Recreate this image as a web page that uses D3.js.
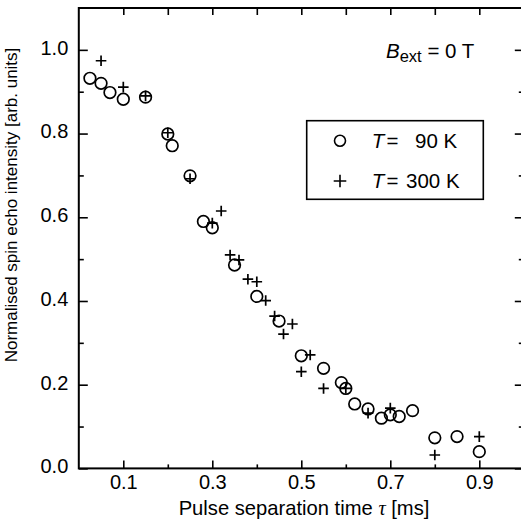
<!DOCTYPE html>
<html>
<head>
<meta charset="utf-8">
<script src="https://cdn.jsdelivr.net/npm/d3@7"></script>
<style>
  body { margin: 0; background: #fff; }
  svg { display: block; font-family: "Liberation Sans", Arial, sans-serif; }
</style>
</head>
<body>
<svg id="chart" width="521" height="529"></svg>
<script>
// T = 90 K, drawn as open circles
const t90Tau = [0.025, 0.05, 0.07, 0.10, 0.15, 0.20, 0.21, 0.25, 0.28, 0.30, 0.35, 0.40, 0.45,
  0.50, 0.55, 0.59, 0.60, 0.62, 0.65, 0.68, 0.70, 0.72, 0.75, 0.80, 0.85, 0.90];
const t90Int = [0.932, 0.920, 0.898, 0.882, 0.887, 0.799, 0.771, 0.699, 0.590, 0.575, 0.486, 0.411, 0.352,
  0.269, 0.239, 0.205, 0.191, 0.154, 0.142, 0.120, 0.128, 0.124, 0.138, 0.073, 0.076, 0.040];

// T = 300 K, drawn as plus signs
const t300Tau = [0.05, 0.10, 0.15, 0.20, 0.25, 0.30, 0.32, 0.34, 0.36, 0.38, 0.40, 0.42,
  0.44, 0.46, 0.48, 0.50, 0.52, 0.55, 0.60, 0.65, 0.70, 0.80, 0.90];
const t300Int = [0.974, 0.911, 0.890, 0.802, 0.692, 0.586, 0.615, 0.510, 0.498, 0.452, 0.446, 0.401,
  0.364, 0.321, 0.345, 0.231, 0.271, 0.191, 0.191, 0.132, 0.144, 0.032, 0.076];

const xMajor = [0.1, 0.3, 0.5, 0.7, 0.9];
const xMinor = [0.2, 0.4, 0.6, 0.8];
const yMajor = [0.0, 0.2, 0.4, 0.6, 0.8, 1.0];
const yMinor = [0.1, 0.3, 0.5, 0.7, 0.9];
const legendTemps = ["90 K", "300 K"];

const svg = d3.select("#chart");

const x = d3.scaleLinear().domain([0, 1]).range([78.8, 523.8]);
const y = d3.scaleLinear().domain([0, 1.1]).range([468.4, 8]);

// axes: ticks point into the plot
function styleAxis(g, fs) {
  g.select(".domain").remove();
  g.selectAll(".tick line").attr("stroke", "#000").attr("stroke-width", 1.6);
  g.selectAll(".tick text").attr("fill", "#000").attr("font-size", fs)
    .attr("font-family", "Liberation Sans, Arial, sans-serif");
}

svg.append("g").attr("transform", `translate(0,${y(0)})`)
  .call(d3.axisBottom(x).tickValues(xMajor).tickSize(-8).tickPadding(6).tickFormat(d3.format(".1f")))
  .call(g => styleAxis(g, 20));
svg.append("g").attr("transform", `translate(0,${y(0)})`)
  .call(d3.axisBottom(x).tickValues(xMinor).tickSize(-4).tickFormat(""))
  .call(g => styleAxis(g, 0));

svg.append("g").attr("transform", `translate(0,${y(1.1)})`)
  .call(d3.axisTop(x).tickValues(xMajor.concat(xMinor)).tickSize(-7).tickFormat(""))
  .call(g => styleAxis(g, 0));

svg.append("g").attr("transform", `translate(${x(0)},0)`)
  .call(d3.axisLeft(y).tickValues(yMajor).tickSize(-9).tickPadding(10.5).tickFormat(d3.format(".1f")))
  .call(g => styleAxis(g, 20))
  .call(g => g.selectAll(".tick text").attr("dy", "0.22em"));
svg.append("g").attr("transform", `translate(${x(0)},0)`)
  .call(d3.axisLeft(y).tickValues(yMinor).tickSize(-5).tickFormat(""))
  .call(g => styleAxis(g, 0));

svg.append("g").attr("transform", `translate(${x(1)},0)`)
  .call(d3.axisRight(y).tickValues(yMajor).tickSize(-9).tickFormat(""))
  .call(g => styleAxis(g, 0));
svg.append("g").attr("transform", `translate(${x(1)},0)`)
  .call(d3.axisRight(y).tickValues(yMinor).tickSize(-5).tickFormat(""))
  .call(g => styleAxis(g, 0));

// frame
svg.append("rect")
  .attr("x", x(0)).attr("y", y(1.1))
  .attr("width", x(1) - x(0)).attr("height", y(0) - y(1.1))
  .attr("fill", "none").attr("stroke", "#000").attr("stroke-width", 2);

// data
const circles = t90Tau.map((t, i) => ({ t, v: t90Int[i] }));
const crosses = t300Tau.map((t, i) => ({ t, v: t300Int[i] }));

svg.append("g").selectAll("circle").data(circles).join("circle")
  .attr("cx", d => x(d.t)).attr("cy", d => y(d.v)).attr("r", 5.8)
  .attr("fill", "none").attr("stroke", "#000").attr("stroke-width", 1.7);

function plusPath(s) {
  return `M${-s},0H${s}M0,${-s}V${s}`;
}
svg.append("g").selectAll("path").data(crosses).join("path")
  .attr("transform", d => `translate(${x(d.t)},${y(d.v)})`)
  .attr("d", plusPath(5.3))
  .attr("fill", "none").attr("stroke", "#000").attr("stroke-width", 1.7);

// B_ext annotation
const bt = svg.append("text").attr("x", 386).attr("y", 58.3).attr("font-size", 20.5).attr("fill", "#000");
bt.append("tspan").attr("font-style", "italic").text("B");
bt.append("tspan").attr("font-size", 16.5).attr("dy", 4).text("ext");
bt.append("tspan").attr("dy", -4).text(" = 0 T");

// legend
svg.append("rect").attr("x", 306.7).attr("y", 120.7).attr("width", 176.6).attr("height", 78.6)
  .attr("fill", "#fff").attr("stroke", "#000").attr("stroke-width", 1.6);
svg.append("circle").attr("cx", 340).attr("cy", 140.7).attr("r", 5.5)
  .attr("fill", "none").attr("stroke", "#000").attr("stroke-width", 1.6);
svg.append("path").attr("transform", "translate(340,181)").attr("d", plusPath(6.3))
  .attr("fill", "none").attr("stroke", "#000").attr("stroke-width", 1.6);

const legY = [147.5, 188];
const numX = [415, 406];
legendTemps.forEach((lab, i) => {
  const t = svg.append("text").attr("y", legY[i]).attr("font-size", 20.5).attr("fill", "#000");
  t.append("tspan").attr("x", 371.7).attr("font-style", "italic").text("T");
  t.append("tspan").attr("x", 386.5).text("=");
  t.append("tspan").attr("x", numX[i]).text(lab);
});

// axis titles
const xt = svg.append("text").attr("x", 304).attr("y", 515).attr("text-anchor", "middle")
  .attr("font-size", 20.2).attr("fill", "#000");
xt.append("tspan").text("Pulse separation time ");
xt.append("tspan").attr("font-family", "Liberation Serif, serif").attr("font-style", "italic").text("τ");
xt.append("tspan").text(" [ms]");

svg.append("text").attr("transform", "translate(17,205) rotate(-90)")
  .attr("text-anchor", "middle").attr("font-size", 17).attr("fill", "#000")
  .text("Normalised spin echo intensity [arb. units]");
</script>
</body>
</html>
